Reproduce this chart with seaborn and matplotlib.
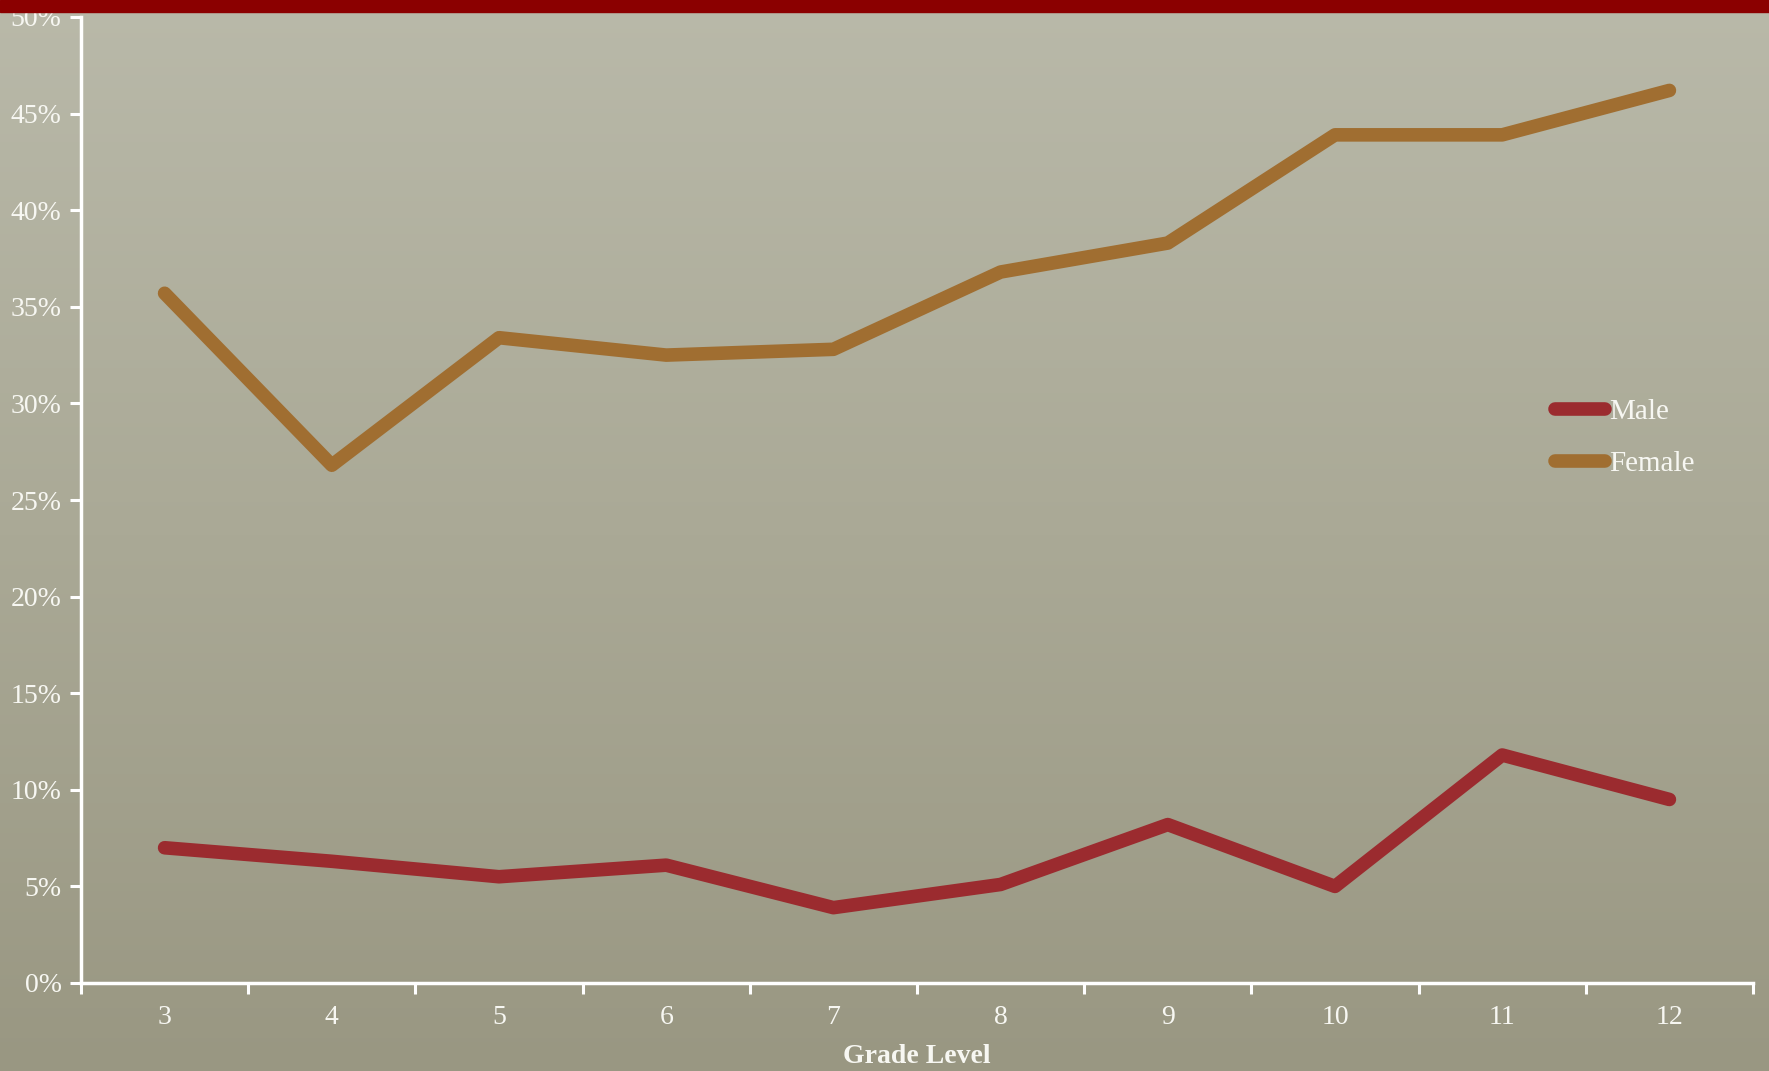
import numpy as np
import pandas as pd
import seaborn as sns
import matplotlib.pyplot as plt
from matplotlib.patches import Rectangle
from matplotlib.colors import LinearSegmentedColormap
from matplotlib.ticker import FixedLocator, PercentFormatter

grades = [3, 4, 5, 6, 7, 8, 9, 10, 11, 12]
male = [7.0, 6.3, 5.5, 6.1, 3.9, 5.1, 8.2, 5.0, 11.8, 9.5]
female = [35.7, 26.8, 33.4, 32.5, 32.8, 36.8, 38.3, 43.9, 43.9, 46.2]

df = pd.DataFrame({
    "Grade": grades * 2,
    "Pct": male + female,
    "Sex": ["Male"] * len(grades) + ["Female"] * len(grades),
})

sns.set_style("white")
plt.rcParams["font.family"] = ["Liberation Serif", "DejaVu Serif"]

fig = plt.figure(figsize=(17.69, 10.71), dpi=100)

# background gradient (lighter at top)
bg = fig.add_axes([0, 0, 1, 1], zorder=-1)
grad = np.linspace(0, 1, 256).reshape(-1, 1)
cmap = LinearSegmentedColormap.from_list("bg", ["#b9b9a9", "#aaa996", "#999782"])
bg.imshow(grad, aspect="auto", cmap=cmap, extent=[0, 1, 0, 1])
bg.axis("off")

ax = fig.add_axes([81 / 1769, 88 / 1071, (1753 - 81) / 1769, (983 - 17) / 1071])
ax.patch.set_alpha(0)

sns.lineplot(data=df, x="Grade", y="Pct", hue="Sex",
             palette={"Male": "#9b2b2f", "Female": "#a06e31"},
             linewidth=9.8, ax=ax, legend=True)
for ln in ax.get_lines():
    ln.set_solid_capstyle("round")
    ln.set_solid_joinstyle("round")

ax.set_xlim(2.5, 12.5)
ax.set_ylim(0, 50)
ax.yaxis.set_major_locator(FixedLocator(range(0, 51, 5)))
ax.yaxis.set_major_formatter(PercentFormatter(decimals=0))

ax.xaxis.set_major_locator(FixedLocator([g - 0.5 for g in grades] + [12.5]))
ax.xaxis.set_minor_locator(FixedLocator(grades))
ax.set_xticklabels([])
ax.set_xticklabels([str(g) for g in grades], minor=True)
ax.tick_params(axis="x", which="major", direction="out", length=8, width=2.2,
               color="white", bottom=True)
ax.tick_params(axis="x", which="minor", length=0, pad=16, labelsize=20,
               labelcolor="#f7f7f2")
ax.tick_params(axis="y", direction="out", length=8, width=2.2, color="white",
               left=True, labelsize=20, labelcolor="#f7f7f2", pad=6)

for side in ["top", "right"]:
    ax.spines[side].set_visible(False)
for side in ["left", "bottom"]:
    ax.spines[side].set_color("white")
    ax.spines[side].set_linewidth(2.5)

ax.set_ylabel("")
ax.set_xlabel("Grade Level", fontsize=20, fontweight="bold", color="#f7f7f2",
              labelpad=10)

leg = ax.legend(loc="upper left", bbox_to_anchor=(0.866, 0.632), frameon=False,
                fontsize=21, handlelength=1.7, handletextpad=0.15,
                labelspacing=0.87)
for t in leg.get_texts():
    t.set_color("#f7f7f2")
for h in leg.get_lines():
    h.set_linewidth(9.8)
    h.set_solid_capstyle("round")

# dark red band across the top
fig.patches.append(Rectangle((0, 1 - 12 / 1071), 1, 12 / 1071,
                             transform=fig.transFigure, color="#8b0000",
                             zorder=5))

fig.savefig("out.png", dpi=100)
